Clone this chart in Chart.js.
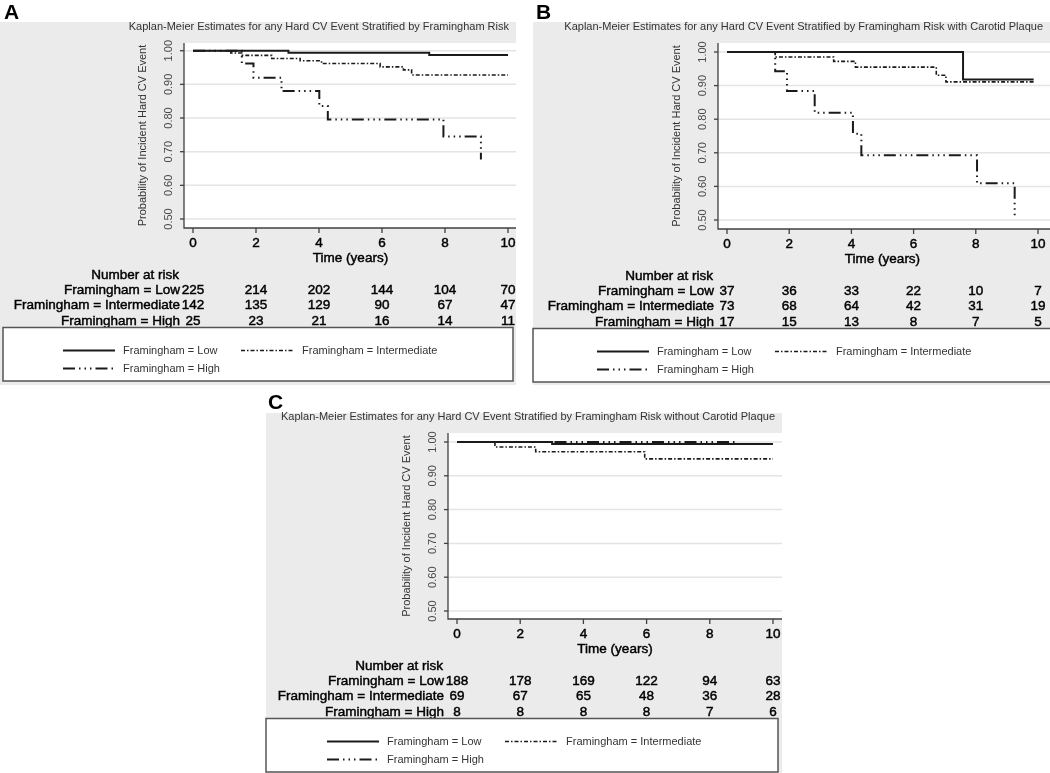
<!DOCTYPE html>
<html>
<head>
<meta charset="utf-8">
<script src="https://cdn.jsdelivr.net/npm/chart.js@4.4.1/dist/chart.umd.min.js"></script>
<style>
  html, body { margin: 0; padding: 0; background: #fff; width: 1050px; height: 773px; overflow: hidden; }
  canvas { position: absolute; }
  #cA { left: 0; top: 0; }
  #cB { left: 530px; top: 0; }
  #cC { left: 260px; top: 390px; }
</style>
</head>
<body>
<canvas id="cA" width="530" height="390"></canvas>
<canvas id="cB" width="520" height="390"></canvas>
<canvas id="cC" width="530" height="383"></canvas>
<script>
// ---------- data ----------
const xTickLabels = [0, 2, 4, 6, 8, 10];
const yTickLabels = [0.50, 0.60, 0.70, 0.80, 0.90, 1.00];
const seriesNames = ['Framingham = Low', 'Framingham = Intermediate', 'Framingham = High'];

const titleA = 'Kaplan-Meier Estimates for any Hard CV Event Stratified by Framingham Risk';
const titleB = 'Kaplan-Meier Estimates for any Hard CV Event Stratified by Framingham Risk with Carotid Plaque';
const titleC = 'Kaplan-Meier Estimates for any Hard CV Event Stratified by Framingham Risk without Carotid Plaque';
const yAxisTitle = 'Probability of Incident Hard CV Event';
const xAxisTitle = 'Time (years)';

// Panel A
const lowA_t  = [0, 3.03, 7.5, 10.0];
const lowA_s  = [1.0, 0.994, 0.987, 0.987];
const intA_t  = [0, 1.2, 1.55, 2.5, 3.4, 4.08, 5.94, 6.68, 6.94, 10.0];
const intA_s  = [1.0, 0.993, 0.986, 0.977, 0.970, 0.962, 0.952, 0.943, 0.928, 0.928];
const highA_t = [0, 1.55, 1.92, 2.81, 4.01, 4.28, 7.95, 9.14];
const highA_s = [1.0, 0.962, 0.92, 0.88, 0.836, 0.796, 0.745, 0.677];
const riskLowA  = [225, 214, 202, 144, 104, 70];
const riskIntA  = [142, 135, 129, 90, 67, 47];
const riskHighA = [25, 23, 21, 16, 14, 11];

// Panel B
const lowB_t  = [0, 7.59, 9.86];
const lowB_s  = [1.0, 0.918, 0.918];
const intB_t  = [0, 1.55, 3.43, 4.13, 6.73, 7.04, 9.86];
const intB_s  = [1.0, 0.985, 0.972, 0.955, 0.931, 0.911, 0.911];
const highB_t = [0, 1.55, 1.93, 2.82, 4.05, 4.32, 8.04, 9.25];
const highB_s = [1.0, 0.943, 0.884, 0.819, 0.757, 0.693, 0.609, 0.505];
const riskLowB  = [37, 36, 33, 22, 10, 7];
const riskIntB  = [73, 68, 64, 42, 31, 19];
const riskHighB = [17, 15, 13, 8, 7, 5];

// Panel C
const lowC_t  = [0, 3.01, 10.0];
const lowC_s  = [1.0, 0.994, 0.994];
const intC_t  = [0, 1.2, 2.49, 5.94, 10.0];
const intC_s  = [1.0, 0.985, 0.971, 0.95, 0.95];
const highC_t = [0, 8.84];
const highC_s = [1.0, 1.0];
const riskLowC  = [188, 178, 169, 122, 94, 63];
const riskIntC  = [69, 67, 65, 48, 36, 28];
const riskHighC = [8, 8, 8, 8, 7, 6];

// ---------- styles ----------
const FONT = '"Liberation Sans", Arial, sans-serif';
const styleLow  = { borderColor: '#1a1a1a', borderWidth: 2, borderDash: [] };
const styleInt  = { borderColor: '#1a1a1a', borderWidth: 1.6, borderDash: [4, 2, 1.5, 2] };
const styleHigh = { borderColor: '#1a1a1a', borderWidth: 2, borderDash: [12, 4, 1.5, 4, 1.5, 4, 1.5, 4] };

function pts(t, s) { return t.map((v, i) => ({ x: v, y: s[i] })); }

function heavyText(ctx, txt, x, y) {
  ctx.fillText(txt, x, y);
  ctx.strokeText(txt, x, y);
}

const kmPlugin = {
  id: 'km',
  beforeDraw(chart, args, o) {
    const ctx = chart.ctx, a = chart.chartArea, ys = chart.scales.y;
    ctx.save();
    ctx.fillStyle = '#ffffff';
    ctx.fillRect(0, 0, chart.width, chart.height);
    ctx.fillStyle = '#ebebeb';
    ctx.fillRect(o.panel[0], o.panel[1], o.panel[2] - o.panel[0], o.panel[3] - o.panel[1]);
    ctx.fillStyle = '#ffffff';
    ctx.fillRect(a.left, a.top, a.right - a.left, a.bottom - a.top);
    ctx.strokeStyle = '#e4e4e4';
    ctx.lineWidth = 1.5;
    yTickLabels.forEach(v => {
      const y = ys.getPixelForValue(v);
      ctx.beginPath(); ctx.moveTo(a.left, y); ctx.lineTo(a.right, y); ctx.stroke();
    });
    ctx.restore();
  },
  afterDraw(chart, args, o) {
    const ctx = chart.ctx, a = chart.chartArea, xs = chart.scales.x, ys = chart.scales.y;
    const x0 = xs.getPixelForValue(0);
    ctx.save();
    // panel letter
    ctx.fillStyle = '#000';
    ctx.font = 'bold 21px ' + FONT;
    ctx.textAlign = 'left'; ctx.textBaseline = 'alphabetic';
    ctx.fillText(o.letter, o.letterPos[0], o.letterPos[1]);
    // title (right-aligned)
    ctx.fillStyle = '#333';
    ctx.font = '11px ' + FONT;
    ctx.textAlign = 'right'; ctx.textBaseline = 'middle';
    ctx.fillText(o.title, a.right - 7, a.top - 16);
    // axes
    ctx.strokeStyle = '#404040';
    ctx.lineWidth = 1.3;
    ctx.beginPath();
    ctx.moveTo(a.left, a.top); ctx.lineTo(a.left, a.bottom); ctx.lineTo(a.right, a.bottom);
    ctx.stroke();
    // y ticks + labels (rotated)
    ctx.fillStyle = '#4a4a4a';
    ctx.font = '11px ' + FONT;
    yTickLabels.forEach(v => {
      const y = ys.getPixelForValue(v);
      ctx.beginPath(); ctx.moveTo(a.left - 4, y); ctx.lineTo(a.left, y); ctx.stroke();
      ctx.save();
      ctx.translate(a.left - 15, y);
      ctx.rotate(-Math.PI / 2);
      ctx.textAlign = 'center'; ctx.textBaseline = 'middle';
      ctx.fillText(v.toFixed(2), 0, 0);
      ctx.restore();
    });
    // y title
    ctx.save();
    ctx.fillStyle = '#333';
    ctx.translate(a.left - 41, (a.top + a.bottom) / 2);
    ctx.rotate(-Math.PI / 2);
    ctx.textAlign = 'center'; ctx.textBaseline = 'middle';
    ctx.fillText(yAxisTitle, 0, 0);
    ctx.restore();
    // x ticks + labels
    xTickLabels.forEach(v => {
      const x = xs.getPixelForValue(v);
      ctx.beginPath(); ctx.moveTo(x, a.bottom); ctx.lineTo(x, a.bottom + 5); ctx.stroke();
    });
    ctx.fillStyle = '#000';
    ctx.strokeStyle = '#000';
    ctx.lineWidth = 0.45;
    ctx.font = '13.5px ' + FONT;
    ctx.textAlign = 'center'; ctx.textBaseline = 'middle';
    xTickLabels.forEach(v => heavyText(ctx, String(v), xs.getPixelForValue(v), a.bottom + 15));
    heavyText(ctx, xAxisTitle, xs.getPixelForValue(5), a.bottom + 30);
    // number at risk
    ctx.textAlign = 'right';
    heavyText(ctx, 'Number at risk', x0 - 14, a.bottom + 47);
    const rowY = [a.bottom + 62, a.bottom + 77.5, a.bottom + 93];
    o.risk.forEach((row, r) => {
      ctx.textAlign = 'right';
      heavyText(ctx, seriesNames[r], x0 - 13, rowY[r]);
      ctx.textAlign = 'center';
      row.forEach((n, i) => heavyText(ctx, String(n), xs.getPixelForValue(xTickLabels[i]), rowY[r]));
    });
    // legend box
    const bt = a.bottom + 99.5, bb = a.bottom + 153;
    ctx.fillStyle = '#fff';
    ctx.fillRect(o.box[0], bt, o.box[1] - o.box[0], bb - bt);
    ctx.strokeStyle = '#555';
    ctx.lineWidth = 1.5;
    ctx.strokeRect(o.box[0], bt, o.box[1] - o.box[0], bb - bt);
    const items = [
      { ds: 0, x1: x0 - 130, x2: x0 - 78, y: bt + 23 },
      { ds: 1, x1: x0 + 48, x2: x0 + 101, y: bt + 23 },
      { ds: 2, x1: x0 - 130, x2: x0 - 78, y: bt + 41 }
    ];
    ctx.font = '11px ' + FONT;
    ctx.textBaseline = 'middle'; ctx.textAlign = 'left';
    items.forEach(it => {
      const ds = chart.data.datasets[it.ds];
      ctx.save();
      ctx.strokeStyle = ds.borderColor;
      ctx.lineWidth = ds.borderWidth;
      ctx.setLineDash(ds.borderDash || []);
      ctx.beginPath(); ctx.moveTo(it.x1, it.y); ctx.lineTo(it.x2, it.y); ctx.stroke();
      ctx.restore();
      ctx.fillStyle = '#333';
      ctx.fillText(ds.label, it.x2 + 8, it.y);
    });
    ctx.restore();
  }
};

function makeChart(id, series, opts) {
  const datasets = series.map((s, i) => Object.assign({
    label: seriesNames[i],
    data: pts(s[0], s[1]),
    stepped: 'before',
    pointRadius: 0,
    fill: false,
    borderCapStyle: 'butt'
  }, [styleLow, styleInt, styleHigh][i]));
  return new Chart(document.getElementById(id), {
    type: 'line',
    data: { datasets },
    options: {
      responsive: false,
      animation: false,
      devicePixelRatio: 1,
      layout: { padding: opts.padding },
      scales: {
        x: { type: 'linear', display: false, min: opts.xr[0], max: opts.xr[1] },
        y: { type: 'linear', display: false, min: opts.yr[0], max: opts.yr[1] }
      },
      plugins: {
        legend: { display: false },
        tooltip: { enabled: false },
        km: opts.km
      }
    },
    plugins: [kmPlugin]
  });
}

makeChart('cA', [[lowA_t, lowA_s], [intA_t, intA_s], [highA_t, highA_s]], {
  padding: { left: 184, top: 43, right: 14, bottom: 162 },
  xr: [-0.2857, 10.254], yr: [0.4733, 1.0229],
  km: { letter: 'A', letterPos: [4, 19], title: titleA, panel: [0, 22, 516, 385],
        box: [3, 513], risk: [riskLowA, riskIntA, riskHighA] }
});
makeChart('cB', [[lowB_t, lowB_s], [intB_t, intB_s], [highB_t, highB_s]], {
  padding: { left: 188, top: 43, right: 0, bottom: 161 },
  xr: [-0.289, 10.386], yr: [0.4732, 1.0268],
  km: { letter: 'B', letterPos: [6, 19], title: titleB, panel: [3, 22, 520, 385],
        box: [3, 524], risk: [riskLowB, riskIntB, riskHighB] }
});
makeChart('cC', [[lowC_t, lowC_s], [intC_t, intC_s], [highC_t, highC_s]], {
  padding: { left: 188, top: 43, right: 8, bottom: 154 },
  xr: [-0.285, 10.285], yr: [0.4763, 1.0266],
  km: { letter: 'C', letterPos: [8, 19], title: titleC, panel: [6, 23, 522, 383],
        box: [6, 518], risk: [riskLowC, riskIntC, riskHighC] }
});
</script>
</body>
</html>
